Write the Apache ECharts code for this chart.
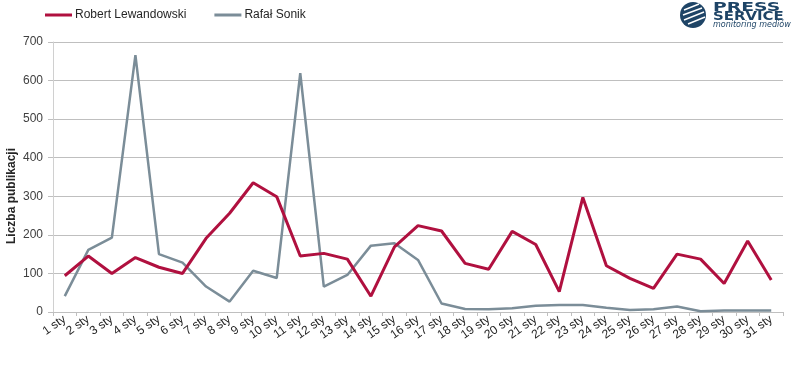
<!DOCTYPE html>
<html>
<head>
<meta charset="utf-8">
<script src="https://cdn.jsdelivr.net/npm/echarts@6/dist/echarts.min.js"></script>
<style>
html,body{margin:0;padding:0;background:#fff;}
#chart{width:800px;height:370px;}
</style>
</head>
<body>
<div id="chart"></div>
<script>
const categories = ["1 sty","2 sty","3 sty","4 sty","5 sty","6 sty","7 sty","8 sty","9 sty","10 sty","11 sty","12 sty","13 sty","14 sty","15 sty","16 sty","17 sty","18 sty","19 sty","20 sty","21 sty","22 sty","23 sty","24 sty","25 sty","26 sty","27 sty","28 sty","29 sty","30 sty","31 sty"];
const lewandowski = [94,145,100,141,116,100,191,256,335,299,145,152,137,41,169,224,210,126,111,209,175,53,297,120,87,61,150,137,74,184,83];
const sonik = [41,161,193,666,150,128,66,27,107,88,619,66,96,172,178,135,22,8,7,10,16,18,18,11,5,7,14,2,4,4,4];
const yTicks = [0,100,200,300,400,500,600,700];

const chart = echarts.init(document.getElementById('chart'));
chart.setOption({
  animation: false,
  backgroundColor: '#ffffff',
  textStyle: { fontFamily: 'Liberation Sans, Arial, sans-serif' },
  grid: { left: 53, right: 17, top: 42, bottom: 58 },
  legend: {
    left: 40, top: 4,
    itemWidth: 27, itemHeight: 3, itemGap: 28,
    icon: 'rect',
    textStyle: { fontSize: 12, color: '#262626', padding: [0,0,0,-2] },
    data: ['Robert Lewandowski', 'Rafał Sonik']
  },
  xAxis: {
    type: 'category',
    data: categories,
    boundaryGap: true,
    axisLine: { lineStyle: { color: '#bfbfbf', width: 1 } },
    axisTick: { show: true, alignWithLabel: false, length: 4, lineStyle: { color: '#bfbfbf' } },
    axisLabel: { rotate: 35, fontSize: 12, color: '#262626', margin: 6, interval: 0 },
    splitLine: { show: false }
  },
  yAxis: {
    type: 'value',
    min: yTicks[0], max: yTicks[yTicks.length-1], interval: 100,
    axisLine: { show: true, lineStyle: { color: '#d0d0d0' } },
    axisTick: { show: true, length: 5, lineStyle: { color: '#bfbfbf' } },
    axisLabel: { fontSize: 12, color: '#404040', margin: 10 },
    splitLine: { lineStyle: { color: '#bfbfbf', width: 1 } }
  },
  graphic: [
    { type: 'text', rotation: Math.PI/2, x: 6, y: 244,
      style: { text: 'Liczba publikacji', font: 'bold 12px "Liberation Sans", Arial', fill: '#262626' } },
    { type: 'circle', shape: { cx: 693, cy: 15, r: 13 }, style: { fill: '#1e4466' } },
    { type: 'line', shape: { x1: 684, y1: 10, x2: 699, y2: 4 }, style: { stroke: '#fff', lineWidth: 1.4 } },
    { type: 'line', shape: { x1: 683, y1: 15, x2: 702, y2: 8 }, style: { stroke: '#fff', lineWidth: 1.4 } },
    { type: 'line', shape: { x1: 684, y1: 20, x2: 704, y2: 12 }, style: { stroke: '#fff', lineWidth: 1.4 } },
    { type: 'line', shape: { x1: 688, y1: 24, x2: 705, y2: 17 }, style: { stroke: '#fff', lineWidth: 1.4 } },
    { type: 'text', x: 713, y: 1, scaleX: 1.5, style: { text: 'PRESS', font: 'bold 12.5px "DejaVu Sans"', fill: '#1e4466' } },
    { type: 'text', x: 713, y: 11.5, scaleX: 1.3, style: { text: 'SERVICE', font: 'bold 11.5px "DejaVu Sans"', fill: '#1e4466' } },
    { type: 'text', x: 713, y: 21, style: { text: 'monitoring mediów', font: 'italic 8px "DejaVu Sans"', fill: '#1e4466' } }
  ],
  series: [
    { name: 'Robert Lewandowski', type: 'line', data: lewandowski, symbol: 'none',
      itemStyle: { color: '#b0103f' }, lineStyle: { color: '#b0103f', width: 3 }, z: 3 },
    { name: 'Rafał Sonik', type: 'line', data: sonik, symbol: 'none',
      itemStyle: { color: '#7b8d98' }, lineStyle: { color: '#7b8d98', width: 2.5 }, z: 2 }
  ]
});
</script>
</body>
</html>
